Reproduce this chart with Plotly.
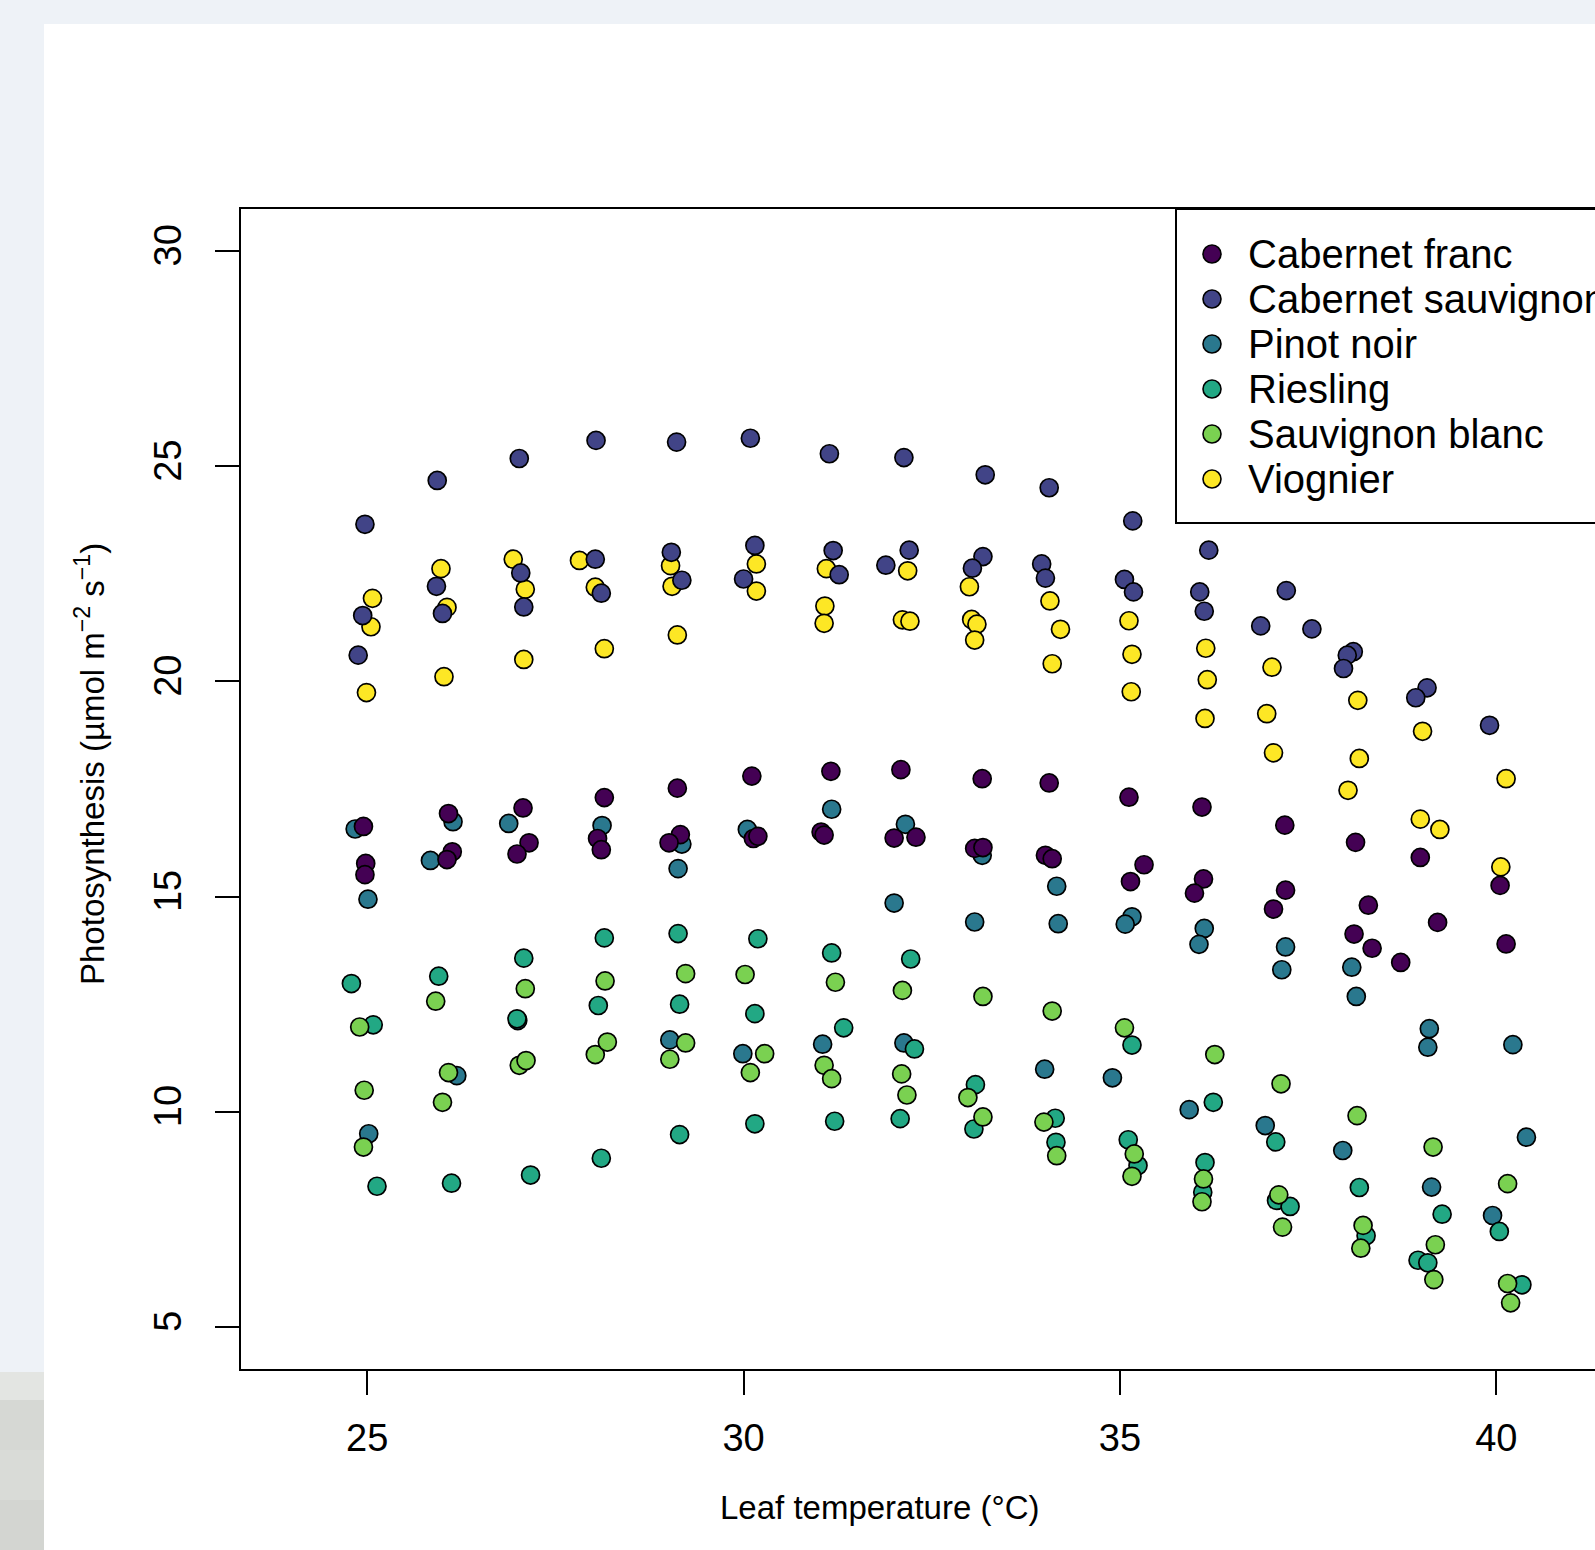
import plotly.graph_objects as go

# ---------------- data ----------------
cultivars = ["Cabernet franc", "Cabernet sauvignon", "Pinot noir", "Riesling",
             "Sauvignon blanc", "Viognier"]
colors = ["#440154", "#414487", "#2A788E", "#22A884", "#7AD151", "#FDE725"]

cf_x = [24.95, 24.98, 24.97, 26.08, 26.13, 26.06, 27.07, 27.15, 26.99, 28.15, 28.06, 28.11,
        29.12, 29.16, 29.01, 30.11, 30.13, 30.19, 31.16, 31.03, 31.07, 32.09, 32.00, 32.29,
        33.17, 33.07, 33.18, 34.06, 34.01, 34.10, 35.12, 35.32, 35.14, 36.09, 36.11, 35.99,
        37.19, 37.20, 37.04, 38.13, 38.30, 38.11, 38.35, 38.99, 39.22, 38.73, 40.05, 40.13]
cf_y = [16.63, 15.77, 15.51, 16.93, 16.04, 15.86, 17.06, 16.25, 15.99, 17.30, 16.35, 16.09,
        17.52, 16.44, 16.25, 17.80, 16.35, 16.40, 17.91, 16.50, 16.43, 17.95, 16.36, 16.38,
        17.74, 16.12, 16.14, 17.64, 15.96, 15.88, 17.31, 15.74, 15.35, 17.08, 15.41, 15.08,
        16.66, 15.15, 14.71, 16.26, 14.80, 14.13, 13.80, 15.91, 14.40, 13.47, 15.26, 13.90]

cs_x = [24.97, 24.94, 24.88, 25.93, 25.92, 26.00, 27.02, 27.04, 27.08, 28.04, 28.03, 28.11,
        29.11, 29.04, 29.18, 30.09, 30.15, 30.00, 31.14, 31.19, 31.27, 32.13, 31.89, 32.20,
        33.21, 33.18, 33.04, 34.06, 33.96, 34.01, 35.17, 35.06, 35.18, 36.18, 36.06, 36.12,
        37.21, 36.87, 37.55, 38.10, 38.02, 37.97, 39.08, 38.93, 39.91]
cs_y = [23.65, 21.53, 20.61, 24.67, 22.21, 21.58, 25.18, 22.52, 21.73, 25.60, 22.84, 22.05,
        25.56, 23.00, 22.35, 25.65, 23.16, 22.38, 25.29, 23.04, 22.48, 25.20, 22.70, 23.05,
        24.80, 22.90, 22.63, 24.50, 22.73, 22.40, 23.73, 22.37, 22.08, 23.05, 22.08, 21.63,
        22.11, 21.29, 21.22, 20.69, 20.61, 20.30, 19.85, 19.62, 18.98]

pn_x = [24.84, 25.01, 25.02, 26.14, 25.84, 26.19, 26.88, 27.00, 28.12, 29.18, 29.13, 29.02,
        30.05, 29.99, 31.17, 31.05, 32.15, 32.00, 32.13, 33.17, 33.07, 34.16, 34.18, 34.00,
        35.16, 35.07, 34.90, 36.12, 36.05, 35.92, 37.20, 37.15, 36.93, 38.08, 38.14, 37.96,
        39.11, 39.09, 39.14, 40.22, 40.40, 39.95]
pn_y = [16.57, 14.94, 9.49, 16.74, 15.84, 10.84, 16.70, 12.12, 16.65, 16.22, 15.65, 11.67,
        16.56, 11.35, 17.03, 11.57, 16.68, 14.85, 11.60, 15.96, 14.41, 15.24, 14.37, 10.99,
        14.53, 14.36, 10.79, 14.26, 13.89, 10.05, 13.83, 13.30, 9.68, 13.36, 12.68, 9.10,
        11.93, 11.50, 8.25, 11.56, 9.41, 7.59]

ri_x = [24.79, 25.08, 25.13, 25.95, 26.12, 27.08, 26.99, 27.17, 28.15, 28.07, 28.11, 29.13,
        29.15, 29.15, 30.19, 30.15, 30.15, 31.17, 31.33, 31.21, 32.22, 32.27, 32.08, 33.08,
        33.06, 34.14, 34.15, 35.16, 35.11, 35.24, 36.24, 36.13, 36.10, 37.07, 37.08, 37.26,
        38.18, 38.27, 39.28, 38.96, 39.09, 40.04, 40.34]
ri_y = [12.98, 12.02, 8.27, 13.15, 8.34, 13.57, 12.16, 8.53, 14.04, 12.47, 8.92, 14.14,
        12.50, 9.47, 14.02, 12.28, 9.72, 13.69, 11.95, 9.78, 13.55, 11.46, 9.84, 10.63,
        9.60, 9.85, 9.29, 11.55, 9.35, 8.75, 10.22, 8.82, 8.13, 9.30, 7.94, 7.80,
        8.24, 7.12, 7.62, 6.55, 6.49, 7.22, 5.98]

sb_x = [24.90, 24.96, 24.95, 25.91, 26.08, 26.00, 27.10, 27.02, 27.11, 28.16, 28.03, 28.19,
        29.23, 29.23, 29.02, 30.02, 30.28, 30.09, 31.22, 31.07, 31.17, 32.11, 32.10, 32.17,
        33.18, 32.98, 33.18, 34.10, 33.99, 34.16, 35.06, 35.19, 35.16, 36.26, 36.11, 36.09,
        37.14, 37.11, 37.16, 38.15, 38.23, 38.20, 39.16, 39.19, 39.17, 40.15, 40.15, 40.19]
sb_y = [11.97, 10.50, 9.18, 12.57, 10.91, 10.22, 12.86, 11.08, 11.19, 13.04, 11.33, 11.62,
        13.21, 11.60, 11.22, 13.19, 11.35, 10.91, 13.01, 11.08, 10.77, 12.82, 10.88, 10.39,
        12.68, 10.33, 9.88, 12.34, 9.76, 8.98, 11.95, 9.02, 8.50, 11.33, 8.44, 7.91,
        10.65, 8.07, 7.32, 9.91, 7.36, 6.83, 9.18, 6.91, 6.10, 8.33, 6.01, 5.56]

vi_x = [25.07, 25.05, 24.99, 25.98, 26.06, 26.02, 26.94, 27.10, 27.08, 27.82, 28.03, 28.15,
        29.03, 29.05, 29.12, 30.17, 30.17, 31.10, 31.08, 31.07, 32.18, 32.11, 32.21, 33.00,
        33.03, 33.10, 33.07, 34.07, 34.21, 34.10, 35.12, 35.16, 35.15, 36.14, 36.16, 36.13,
        37.02, 36.95, 37.04, 38.16, 38.18, 38.03, 39.02, 38.99, 39.25, 40.13, 40.06]
vi_y = [21.93, 21.27, 19.74, 22.62, 21.72, 20.11, 22.84, 22.14, 20.51, 22.81, 22.19, 20.76,
        22.69, 22.21, 21.08, 22.73, 22.10, 22.62, 21.75, 21.35, 22.57, 21.43, 21.40, 22.20,
        21.44, 21.33, 20.96, 21.87, 21.21, 20.41, 21.41, 20.63, 19.76, 20.77, 20.04, 19.14,
        20.33, 19.25, 18.34, 19.56, 18.21, 17.47, 18.84, 16.80, 16.56, 17.74, 15.69]

x_ticks = [25, 30, 35, 40]
y_ticks = [5, 10, 15, 20, 25, 30]
x_title = "Leaf temperature (°C)"
y_title = "Photosynthesis (µmol m<sup>−2</sup> s<sup>−1</sup>)"

series = {
    "Cabernet franc": (cf_x, cf_y),
    "Cabernet sauvignon": (cs_x, cs_y),
    "Pinot noir": (pn_x, pn_y),
    "Riesling": (ri_x, ri_y),
    "Sauvignon blanc": (sb_x, sb_y),
    "Viognier": (vi_x, vi_y),
}
draw_order = ["Pinot noir", "Riesling", "Sauvignon blanc", "Cabernet franc",
              "Viognier", "Cabernet sauvignon"]

# ---------------- layout geometry (pixels) ----------------
W, H = 1595, 1550
L, R, T, B = 240, 1595, 208, 1370   # plot-area edges
PW, PH = R - L, B - T
FONT = "Liberation Sans, Arial, Helvetica, sans-serif"


def px(x):
    return (x - L) / PW


def py(y):
    return (B - y) / PH


fig = go.Figure()
for name in draw_order:
    xs, ys = series[name]
    fig.add_trace(go.Scatter(
        x=xs, y=ys, mode="markers", name=name, showlegend=False,
        marker=dict(size=18, color=colors[cultivars.index(name)],
                    line=dict(color="black", width=1.7)),
        cliponaxis=True,
    ))

shapes = []
# white page area over the bluish backdrop
shapes.append(dict(type="rect", xref="paper", yref="paper", layer="below",
                   x0=px(44), x1=px(1700), y0=py(1560), y1=py(24),
                   fillcolor="white", line=dict(width=0)))
# grey mosaic in the bottom-left corner
mosaic = [(1372, 1400, "#e3e5e2"), (1400, 1450, "#d6d8d4"), (1450, 1500, "#d9dbd7"),
          (1500, 1560, "#d3d5d1")]
for y0, y1, c in mosaic:
    shapes.append(dict(type="rect", xref="paper", yref="paper", layer="below",
                       x0=px(-10), x1=px(44), y0=py(y1), y1=py(y0),
                       fillcolor=c, line=dict(width=0)))
# plot box (right side lies outside the picture)
shapes.append(dict(type="rect", xref="paper", yref="paper",
                   x0=0, x1=px(1700), y0=0, y1=1,
                   line=dict(color="black", width=2)))
# legend box
shapes.append(dict(type="rect", xref="paper", yref="paper",
                   x0=px(1176), x1=px(1700), y0=py(523), y1=py(209),
                   line=dict(color="black", width=2), fillcolor="white"))

annotations = []
row_y = [254, 299, 344, 389, 434, 479]
for i, name in enumerate(cultivars):
    shapes.append(dict(type="circle", xref="paper", yref="paper",
                       xsizemode="pixel", ysizemode="pixel",
                       xanchor=px(1212), yanchor=py(row_y[i]),
                       x0=-9, x1=9, y0=-9, y1=9,
                       fillcolor=colors[i], line=dict(color="black", width=1.6)))
    annotations.append(dict(xref="paper", yref="paper", x=px(1246), y=py(row_y[i]),
                            xanchor="left", yanchor="middle", showarrow=False,
                            text=name, font=dict(size=40, color="black", family=FONT)))

annotations.append(dict(xref="paper", yref="paper", x=px(880), y=py(1507),
                        xanchor="center", yanchor="middle", showarrow=False,
                        text=x_title, font=dict(size=33, color="black", family=FONT)))
annotations.append(dict(xref="paper", yref="paper", x=px(90), y=py(764),
                        xanchor="center", yanchor="middle", showarrow=False,
                        textangle=-90,
                        text=y_title, font=dict(size=33, color="black", family=FONT)))

fig.update_layout(
    width=W, height=H,
    margin=dict(l=L, r=W - R, t=T, b=H - B, pad=0, autoexpand=False),
    paper_bgcolor="#eef2f7", plot_bgcolor="white",
    font=dict(family=FONT, color="black"),
    shapes=shapes, annotations=annotations,
    showlegend=False,
    xaxis=dict(range=[23.31, 41.311], tickvals=x_ticks, ticktext=[str(v) for v in x_ticks],
               ticks="outside", ticklen=24, tickwidth=1.5, tickcolor="black",
               showgrid=False, zeroline=False, showline=False,
               tickfont=dict(size=38, family=FONT, color="black"),
               ticklabelstandoff=10, automargin=False),
    yaxis=dict(range=[4, 31], tickvals=y_ticks, ticktext=[str(v) for v in y_ticks],
               ticks="outside", ticklen=24, tickwidth=1.5, tickcolor="black",
               showgrid=False, zeroline=False, showline=False, tickangle=-90,
               tickfont=dict(size=38, family=FONT, color="black"),
               ticklabelstandoff=19, automargin=False),
)

fig.write_html("out.html", config={"displayModeBar": False},
               post_script="document.body.style.margin='0';")
